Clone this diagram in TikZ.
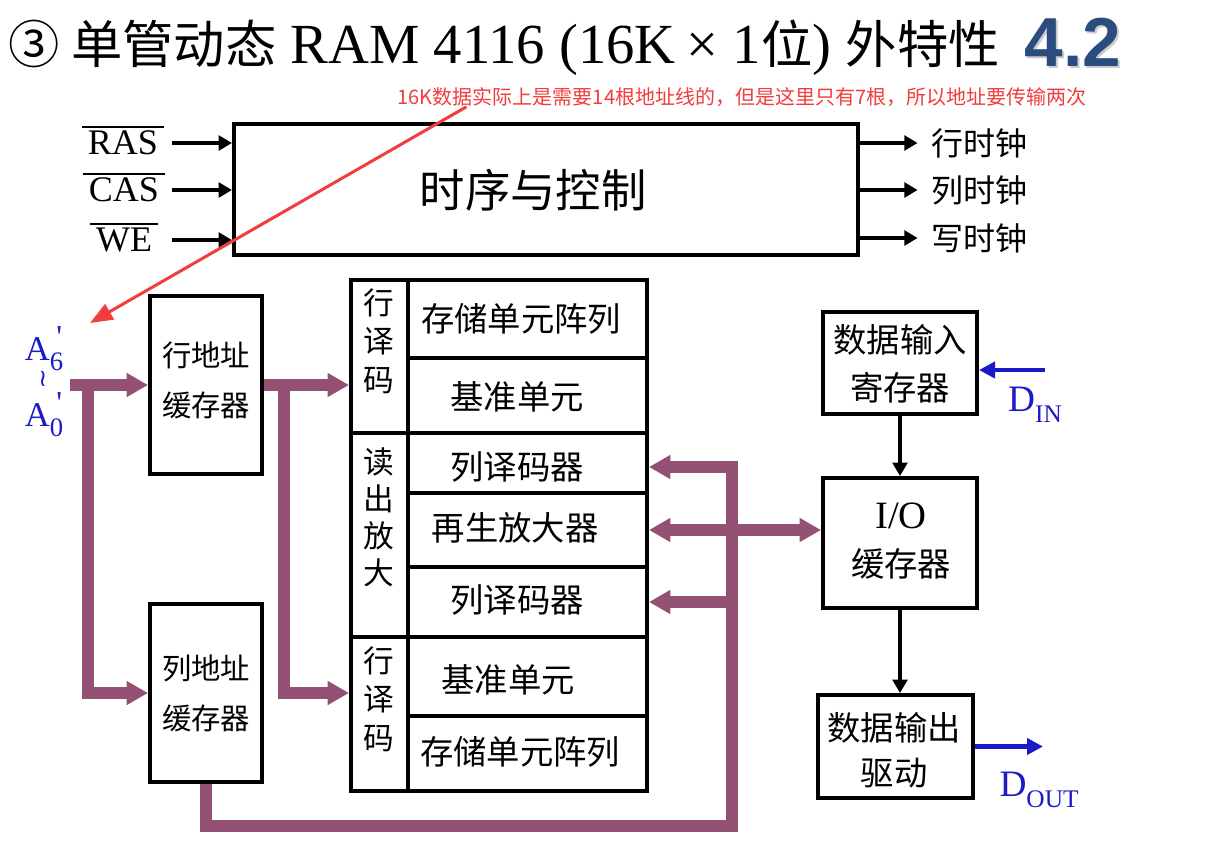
\documentclass[tikz,border=0pt]{standalone}
\usepackage{fontspec}
\setmainfont{Liberation Serif}
\newfontfamily\cjk{Noto Sans CJK SC}
\newfontfamily\heads{Liberation Sans}
\newfontfamily\symf{DejaVu Sans}
\usetikzlibrary{arrows.meta,fit,calc}

\definecolor{busc}{HTML}{945073}
\definecolor{sigc}{HTML}{1A1AC8}
\definecolor{notec}{HTML}{F23D3D}
\definecolor{secc}{HTML}{2B4C7E}

% CJK text at a given size (pt)
\newcommand\cjkat[2]{{\cjk\fontsize{#1}{#1}\selectfont #2}}
% address pin label: letter with a primed subscript
\newcommand\pinlbl[1]{A\makebox[0pt][l]{\raisebox{0.36em}{\fontsize{24}{24}\selectfont\hspace{0.2em}\textquotesingle}}\raisebox{-0.3em}{\fontsize{20}{20}\selectfont #1}}

\begin{document}
\begin{tikzpicture}[x=0.75pt,y=-0.75pt,
  box/.style={draw=black, line width=3pt, inner sep=0pt},
  lbl/.style={inner sep=0pt, align=center},
  cell/.style={lbl, font=\cjk\fontsize{25}{30}\selectfont},
  vtxt/.style={lbl, font=\cjk\fontsize{23}{29}\selectfont},
  buftxt/.style={lbl, font=\cjk\fontsize{22}{37.5}\selectfont},
  datatxt/.style={lbl, font=\cjk\fontsize{25}{36}\selectfont},
  arr/.style={line width=3pt, -{Triangle[length=10pt,width=11pt]}},
  busline/.style={draw=busc, line width=9pt},
  busarrow/.style={busline, -{Triangle[length=16pt,width=17pt]}},
  sigarr/.style={draw=sigc, line width=3.5pt, -{Triangle[length=12pt,width=12pt]}},
  sig/.style={inner sep=0pt, text=sigc, font=\fontsize{28}{30}\selectfont},
  ctl/.style={inner sep=2.5pt, font=\fontsize{27}{30}\selectfont},
  ovl/.style={line width=1.5pt},
]
\useasboundingbox (0,0) rectangle (1213,846);
\fill[white] (0,0) rectangle (1213,846);

% heading
\node[anchor=west, inner sep=0pt, font=\fontsize{42.5}{50}\selectfont] (title) at (8,48)
  {\cjkat{38.5}{③ 单管动态} RAM 4116 (16K\hspace{8pt}×\hspace{11pt}1\cjkat{38.5}{位}) \cjkat{38.5}{外特性}};
\node[inner sep=0pt, text=gray!40, font=\heads\bfseries\fontsize{52}{52}\selectfont] (secshadow) at (1075,44) {4.2};
\node[inner sep=0pt, text=secc, font=\heads\bfseries\fontsize{52}{52}\selectfont] (secnum) at (1073,42) {4.2};

% timing and control block
\node[box, fit={(234,124) (858,255)}] (ctrl) {};
\node[lbl, font=\cjk\fontsize{34}{40}\selectfont] (ctrlt) at (533,190) {时序与控制};
\node[ctl] (ras) at (123,143) {RAS};
\node[ctl] (cas) at (124,190) {CAS};
\node[ctl] (we)  at (124,240) {WE};
\coordinate (sigx) at (172,143);
\foreach \s in {ras,cas,we}{
  \draw[ovl] ([xshift=-1.5pt]\s.north west) -- ([xshift=1.5pt]\s.north east);
  \draw[arr] (sigx |- \s.east) -- (\s.east -| ctrl.west);
}
\node[lbl, anchor=west, font=\cjk\fontsize{24}{28}\selectfont] (clkr) at (931,143) {行时钟};
\node[lbl, anchor=west, font=\cjk\fontsize{24}{28}\selectfont] (clkc) at (931,190) {列时钟};
\node[lbl, anchor=west, font=\cjk\fontsize{24}{28}\selectfont] (clkw) at (931,238) {写时钟};
\foreach \c in {clkr,clkc,clkw}{
  \draw[arr, shorten >=10pt] (ctrl.east |- \c.west) -- (\c.west);
}

% address buffers
\node[box, fit={(150,296) (262,474)}] (rowbuf) {};
\node[box, fit={(150,604) (262,782)}] (colbuf) {};
\node[buftxt] (rowbuft) at (206,380) {行地址\\缓存器};
\node[buftxt] (colbuft) at (206,693) {列地址\\缓存器};

% memory array column
\node[box, fit={(351,280) (408,433)}] (rdec1) {};
\node[box, fit={(351,433) (408,637)}] (sense) {};
\node[box, fit={(351,637) (408,791)}] (rdec2) {};
\node[box, fit={(408,280) (647,358)}] (mem1) {};
\node[box, fit={(408,358) (647,433)}] (ref1) {};
\node[box, fit={(408,433) (647,493)}] (cdec1) {};
\node[box, fit={(408,493) (647,567)}] (amp) {};
\node[box, fit={(408,567) (647,637)}] (cdec2) {};
\node[box, fit={(408,637) (647,716)}] (ref2) {};
\node[box, fit={(408,716) (647,791)}] (mem2) {};

\node[vtxt] (rdec1t) at (379,341) {行\\译\\码};
\node[vtxt, font=\cjk\fontsize{23}{27.75}\selectfont] (senset) at (379,517) {读\\出\\放\\大};
\node[vtxt] (rdec2t) at (379,699) {行\\译\\码};
\node[cell] (mem1t) at (521,319) {存储单元阵列};
\node[cell] (ref1t) at (517,397) {基准单元};
\node[cell] (cdec1t) at (517,467) {列译码器};
\node[cell] (ampt) at (515,528) {再生放大器};
\node[cell] (cdec2t) at (517,600) {列译码器};
\node[cell] (ref2t) at (508,680) {基准单元};
\node[cell] (mem2t) at (520,752) {存储单元阵列};

% data path
\node[box, fit={(823,312) (977,414)}] (din) {};
\node[box, fit={(823,478) (977,608)}] (iobuf) {};
\node[box, fit={(818,695) (973,798)}] (dout) {};
\node[datatxt] (dint) at (900,364) {数据输入\\寄存器};
\node[datatxt] (iobuft) at (901,541)
  {{\fontspec{Liberation Serif}\fontsize{29}{36}\selectfont I/O}\\缓存器};
\node[datatxt, font=\cjk\fontsize{25}{34}\selectfont] (doutt) at (894,750) {数据输出\\驱动};
\draw[arr] (din.south) -- (iobuf.north);
\draw[arr] (iobuf.south) -- (iobuf.south |- dout.north);

\coordinate (dinsrc) at (1045,370);
\coordinate (doutdst) at (1043,746.5);
\draw[sigarr] (dinsrc) -- (dinsrc -| din.east);
\draw[sigarr] (dout.east) -- (doutdst);
\node[sig] (dinl) at (1035,405) {D\raisebox{-0.3em}{\fontsize{19}{19}\selectfont IN}};
\node[sig] (doutl) at (1039,790) {D\raisebox{-0.3em}{\fontsize{19}{19}\selectfont OUT}};

% address inputs
\node[sig, font=\fontsize{26}{28}\selectfont] (a6) at (44,349) {\pinlbl{6}};
\node[inner sep=0pt, text=sigc, font=\symf\fontsize{18}{18}\selectfont] (tilde) at (43,379) {≀};
\node[sig, font=\fontsize{26}{28}\selectfont] (a0) at (44,415) {\pinlbl{0}};

% address buses
\coordinate (ain) at (70,385);
\coordinate (asplit) at (88,385);
\coordinate (rsplit) at (284,385);
\draw[busarrow] (ain) -- (rowbuf.west);
\draw[busarrow] (asplit) |- (colbuf.west);
\draw[busarrow] (rowbuf.east) -- (rowbuf.east -| rdec1.west);
\draw[busarrow] (rsplit) |- (rdec2.west |- colbuf.west);

% column address bus
\coordinate (bus) at (732,826);
\draw[busarrow] (colbuf.south) |- (bus) |- ([yshift=-3pt]cdec1.east);
\draw[busarrow] (bus) |- (cdec2.east);
\draw[busline, {Triangle[length=16pt,width=17pt]}-{Triangle[length=16pt,width=17pt]}] (amp.east) -- (amp.east -| iobuf.west);

% annotation
\node[inner sep=0pt, text=notec, font=\cjk\fontsize{15}{18}\selectfont] (note) at (742,97)
  {16K数据实际上是需要14根地址线的，但是这里只有7根，所以地址要传输两次};
\coordinate (notetarget) at (90,323);
\draw[draw=notec, line width=2.25pt, -{Triangle[length=17pt,width=13pt]}]
  ($(note.south west)!0.1!(note.south east)$) -- (notetarget);
\end{tikzpicture}
\end{document}
